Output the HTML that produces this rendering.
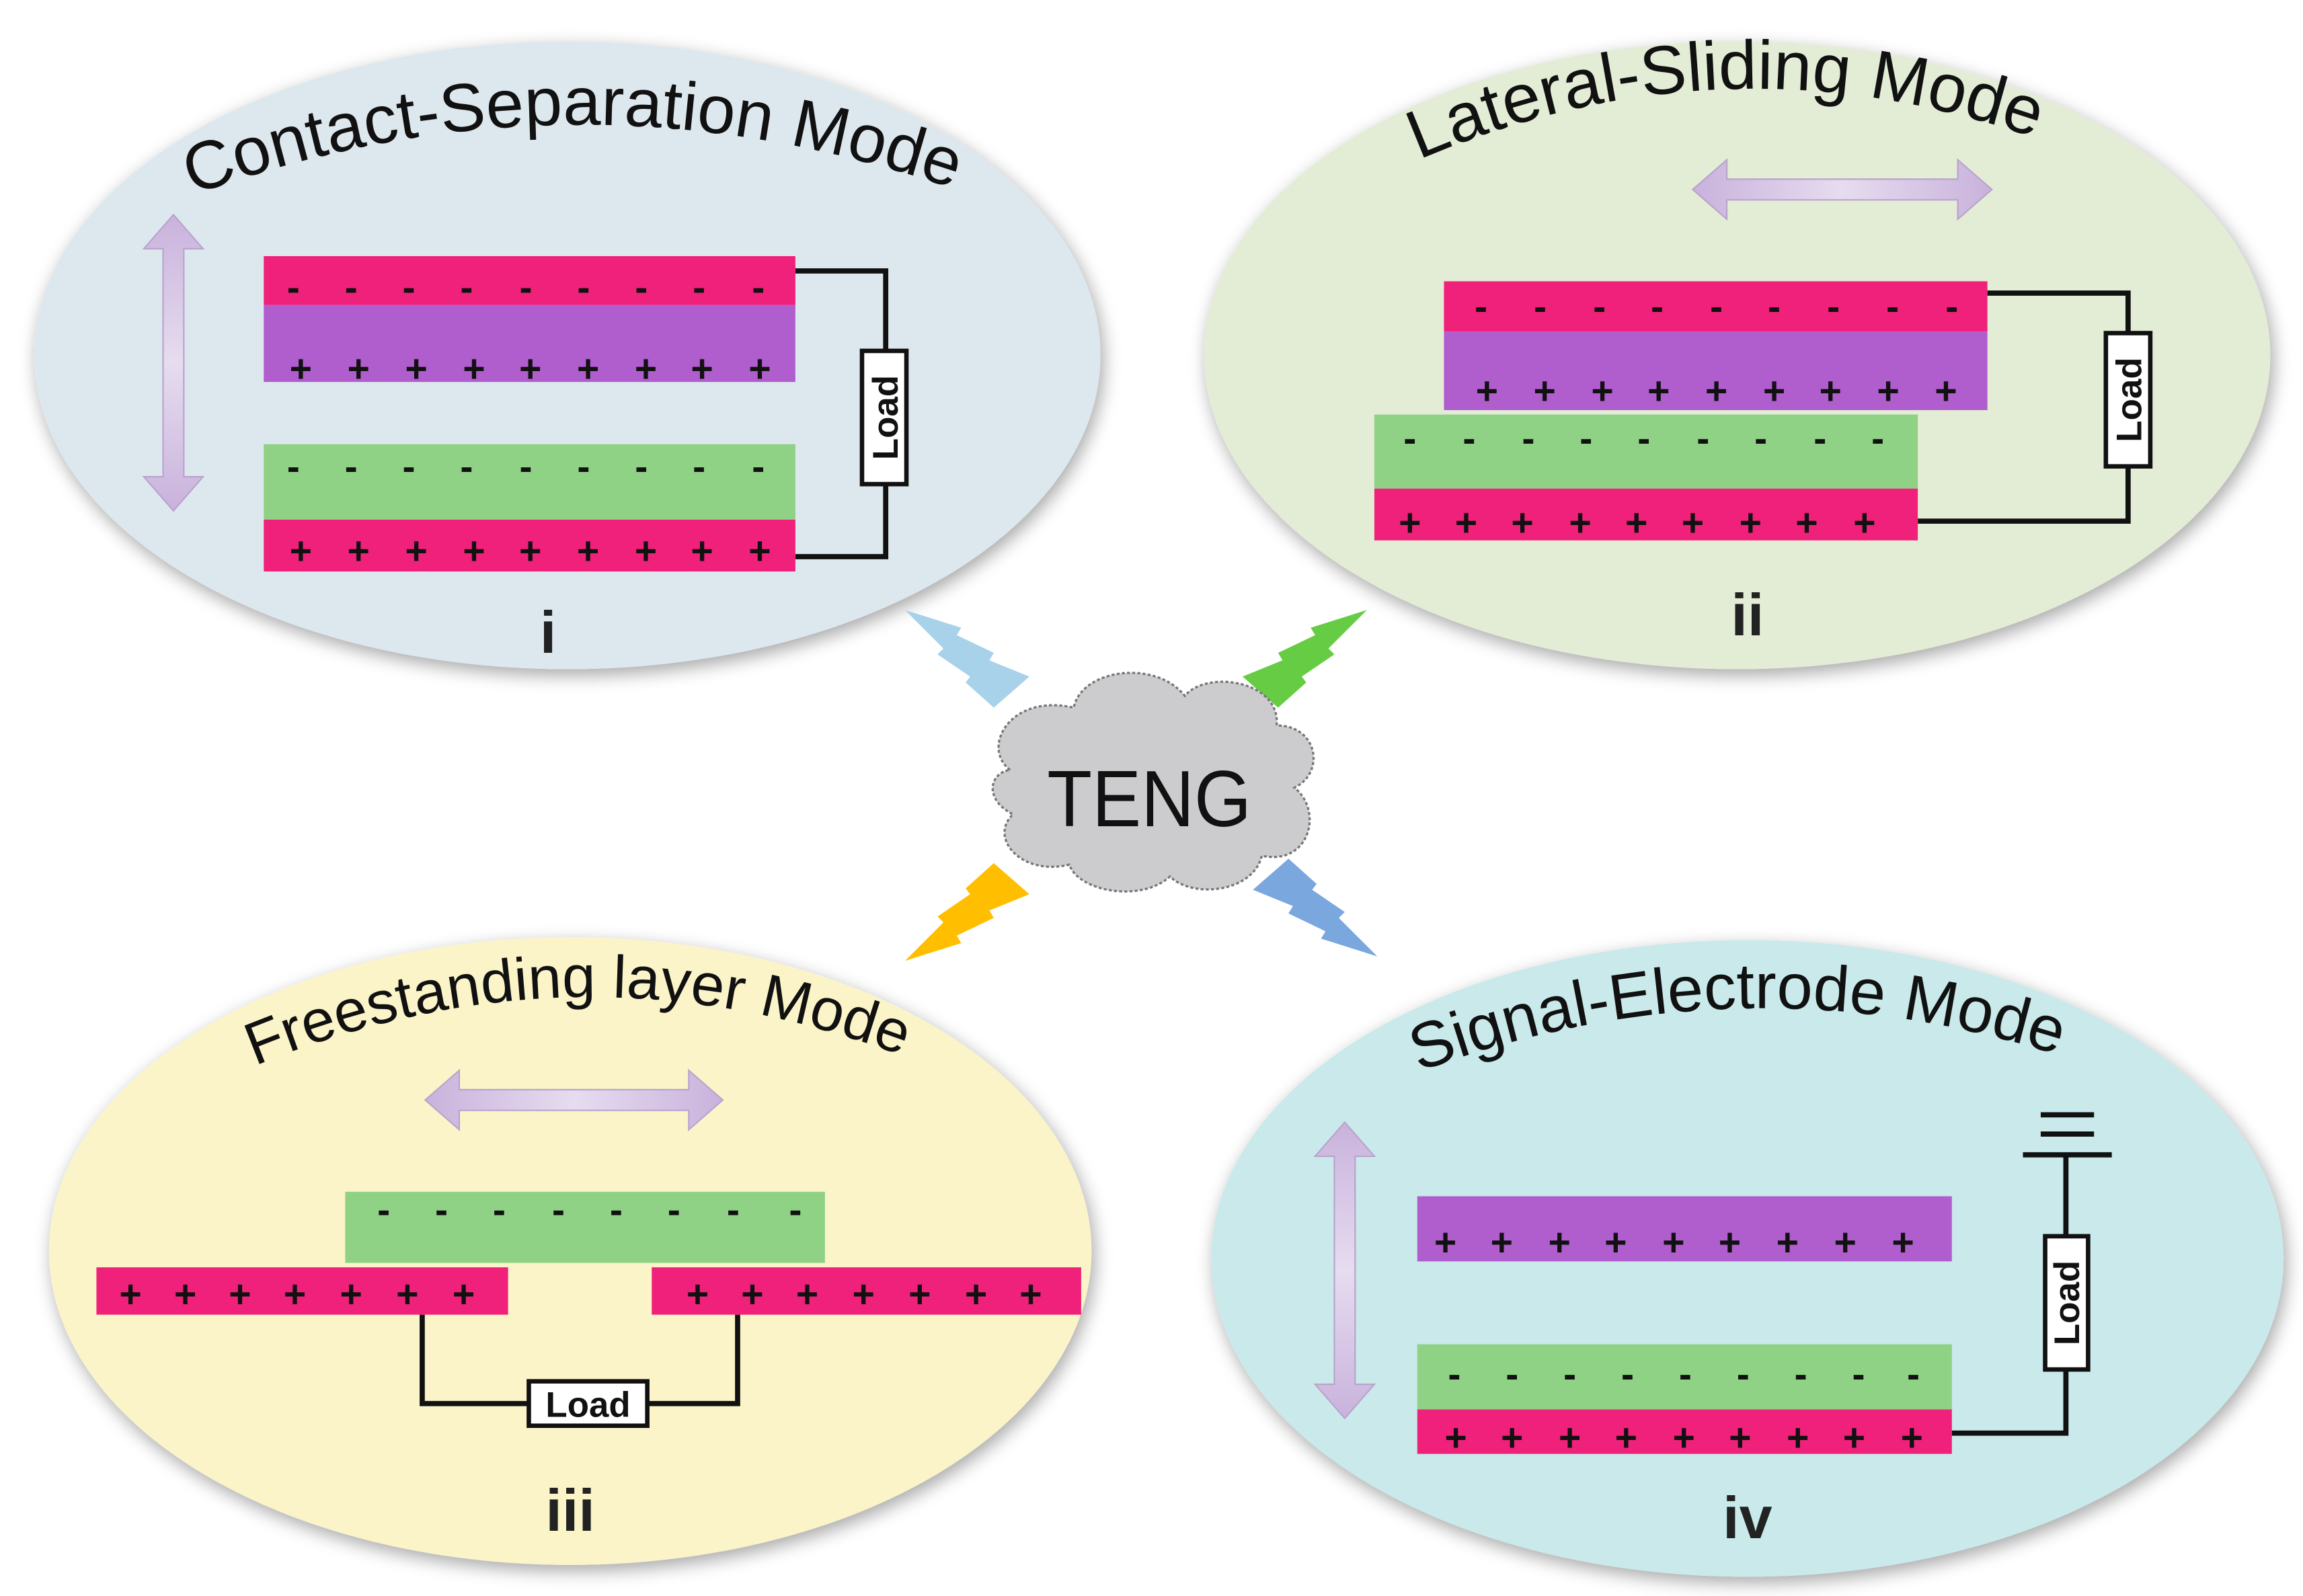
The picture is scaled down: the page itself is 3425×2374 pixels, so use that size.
<!DOCTYPE html>
<html><head><meta charset="utf-8"><style>
html,body{margin:0;padding:0;background:#fff;}
svg{display:block;}
text{font-family:"Liberation Sans",sans-serif;}
</style></head><body>
<svg width="3425" height="2374" viewBox="0 0 1555 1078" xmlns="http://www.w3.org/2000/svg">
<defs>
<filter id="sh" x="-10%" y="-10%" width="120%" height="120%"><feGaussianBlur in="SourceAlpha" stdDeviation="6"/><feOffset dx="2" dy="4"/><feComponentTransfer><feFuncA type="linear" slope="0.35"/></feComponentTransfer><feMerge><feMergeNode/><feMergeNode in="SourceGraphic"/></feMerge></filter>
<linearGradient id="av" x1="0" y1="0" x2="0" y2="1"><stop offset="0" stop-color="#c9b2dc"/><stop offset="0.5" stop-color="#e6dcef"/><stop offset="1" stop-color="#c9b2dc"/></linearGradient>
<linearGradient id="ah" x1="0" y1="0" x2="1" y2="0"><stop offset="0" stop-color="#c9b2dc"/><stop offset="0.5" stop-color="#e6dcef"/><stop offset="1" stop-color="#c9b2dc"/></linearGradient>
<path id="p1" d="M130,132 Q395,35 665,135"/>
<path id="p2" d="M958,108 Q1175,15 1398,102"/>
<path id="p3" d="M172,720 Q395,628 622,718"/>
<path id="p4" d="M958,724 Q1185,640 1412,720"/>
<polygon id="bolt" points="611,412 649,424 646,429 671,441 668,446 695,457 671,478 652,461 655,457 633,442 637,438"/>
</defs>

<ellipse cx="383" cy="240" rx="360" ry="212" fill="#dde8ee" filter="url(#sh)"/>
<ellipse cx="1173" cy="240" rx="360" ry="212" fill="#e3ecd5" filter="url(#sh)"/>
<ellipse cx="385" cy="845" rx="352" ry="212" fill="#fbf4c8" filter="url(#sh)"/>
<ellipse cx="1180" cy="850" rx="362" ry="215" fill="#c9e9ea" filter="url(#sh)"/>

<text font-size="46" fill="#111"><textPath href="#p1">Contact-Separation Mode</textPath></text>
<text font-size="46.5" fill="#111"><textPath href="#p2">Lateral-Sliding Mode</textPath></text>
<text font-size="40.5" fill="#111"><textPath href="#p3">Freestanding layer Mode</textPath></text>
<text font-size="43.5" fill="#111"><textPath href="#p4">Signal-Electrode Mode</textPath></text>

<polygon points="117,145 137,168 124,168 124,322 137,322 117,345 97,322 110,322 110,168 97,168" fill="url(#av)" stroke="#b9a4cc" stroke-width="1"/>
<polygon points="908,758 928,781 915,781 915,935 928,935 908,958 888,935 901,935 901,781 888,781" fill="url(#av)" stroke="#b9a4cc" stroke-width="1"/>
<polygon points="1143,128 1166,108 1166,121 1322,121 1322,108 1345,128 1322,148 1322,135 1166,135 1166,148" fill="url(#ah)" stroke="#b9a4cc" stroke-width="1"/>
<polygon points="287,743 310,723 310,736 465,736 465,723 488,743 465,763 465,750 310,750 310,763" fill="url(#ah)" stroke="#b9a4cc" stroke-width="1"/>

<g fill="none" stroke="#111" stroke-width="3.5">
<polyline points="537,183 598,183 598,376 537,376"/>
<polyline points="1342,198 1437,198 1437,352 1295,352"/>
<polyline points="285,888 285,948 498,948 498,888"/>
<polyline points="1318,968 1395,968 1395,780"/>
<line x1="1366" y1="780" x2="1426" y2="780"/>
<line x1="1378" y1="766" x2="1414" y2="766"/>
<line x1="1378" y1="753" x2="1414" y2="753"/>
</g>

<rect x="178" y="173" width="359" height="33" fill="#f0217a"/>
<rect x="178" y="206" width="359" height="52" fill="#b05dce"/>
<rect x="178" y="300" width="359" height="51" fill="#8fd185"/>
<rect x="178" y="351" width="359" height="35" fill="#f0217a"/>
<rect x="975" y="190" width="367" height="34" fill="#f0217a"/>
<rect x="975" y="224" width="367" height="53" fill="#b05dce"/>
<rect x="928" y="280" width="367" height="50" fill="#8fd185"/>
<rect x="928" y="330" width="367" height="35" fill="#f0217a"/>
<rect x="233" y="805" width="324" height="48" fill="#8fd185"/>
<rect x="65" y="856" width="278" height="32" fill="#f0217a"/>
<rect x="440" y="856" width="290" height="32" fill="#f0217a"/>
<rect x="957" y="808" width="361" height="44" fill="#b05dce"/>
<rect x="957" y="908" width="361" height="44" fill="#8fd185"/>
<rect x="957" y="952" width="361" height="30" fill="#f0217a"/>

<g font-size="26" font-weight="bold" fill="#111" text-anchor="middle">
<text x="198 237 276 315 355 394 433 472 512" y="203">---------</text>
<text x="203 242 281 320 358 397 436 474 513" y="258">+++++++++</text>
<text x="198 237 276 315 355 394 433 472 512" y="324">---------</text>
<text x="203 242 281 320 358 397 436 474 513" y="381">+++++++++</text>
<text x="1000 1040 1080 1119 1159 1198 1238 1278 1318" y="216">---------</text>
<text x="1004 1043 1082 1120 1159 1198 1236 1275 1314" y="273">+++++++++</text>
<text x="952 992 1032 1071 1110 1150 1189 1229 1268" y="305">---------</text>
<text x="952 990 1028 1067 1105 1143 1182 1220 1259" y="362">+++++++++</text>
<text x="259 298 337 377 416 455 495 537" y="826">--------</text>
<text x="88 125 162 199 237 275 313" y="883">+++++++</text>
<text x="471 508 545 583 621 659 696" y="883">+++++++</text>
<text x="976 1014 1053 1091 1130 1168 1207 1246 1285" y="848">+++++++++</text>
<text x="982 1021 1060 1099 1138 1177 1216 1255 1292" y="937">---------</text>
<text x="983 1021 1060 1098 1137 1175 1214 1252 1291" y="980">+++++++++</text>
</g>

<g fill="#fff" stroke="#111" stroke-width="3">
<rect x="582" y="237" width="30" height="90"/>
<rect x="1422" y="225" width="30" height="90"/>
<rect x="357" y="933" width="80" height="30"/>
<rect x="1381" y="835" width="29" height="90"/>
</g>
<g font-size="24" font-weight="bold" fill="#111" text-anchor="middle">
<text transform="translate(606,282) rotate(-90)">Load</text>
<text transform="translate(1446,270) rotate(-90)">Load</text>
<text x="397" y="957">Load</text>
<text transform="translate(1404,880) rotate(-90)">Load</text>
</g>

<g font-size="40" font-weight="bold" fill="#222" text-anchor="middle">
<text x="370" y="441">i</text>
<text x="1180" y="429">ii</text>
<text x="385" y="1034">iii</text>
<text x="1180" y="1039">iv</text>
</g>

<use href="#bolt" fill="#a8d1ea"/>
<use href="#bolt" fill="#66cc44" transform="translate(1534,0) scale(-1,1)"/>
<use href="#bolt" fill="#ffbf00" transform="translate(0,1061) scale(1,-1)"/>
<use href="#bolt" fill="#7aa7dd" transform="translate(1541,1058) scale(-1,-1)"/>

<path d="M682,520 C662,505 682,468 725,478 C730,452 780,445 800,470 C815,452 865,460 862,490 C890,490 895,522 874,532 C894,548 884,585 852,578 C846,603 805,607 790,592 C770,610 728,602 722,584 C690,592 667,566 684,550 C664,540 668,522 682,520 Z" fill="#cccbcd" stroke="#777" stroke-width="1.5" stroke-dasharray="2,1.5"/>
<text x="776" y="558" font-size="54" text-anchor="middle" fill="#111" textLength="138" lengthAdjust="spacingAndGlyphs">TENG</text>
</svg>
</body></html>
